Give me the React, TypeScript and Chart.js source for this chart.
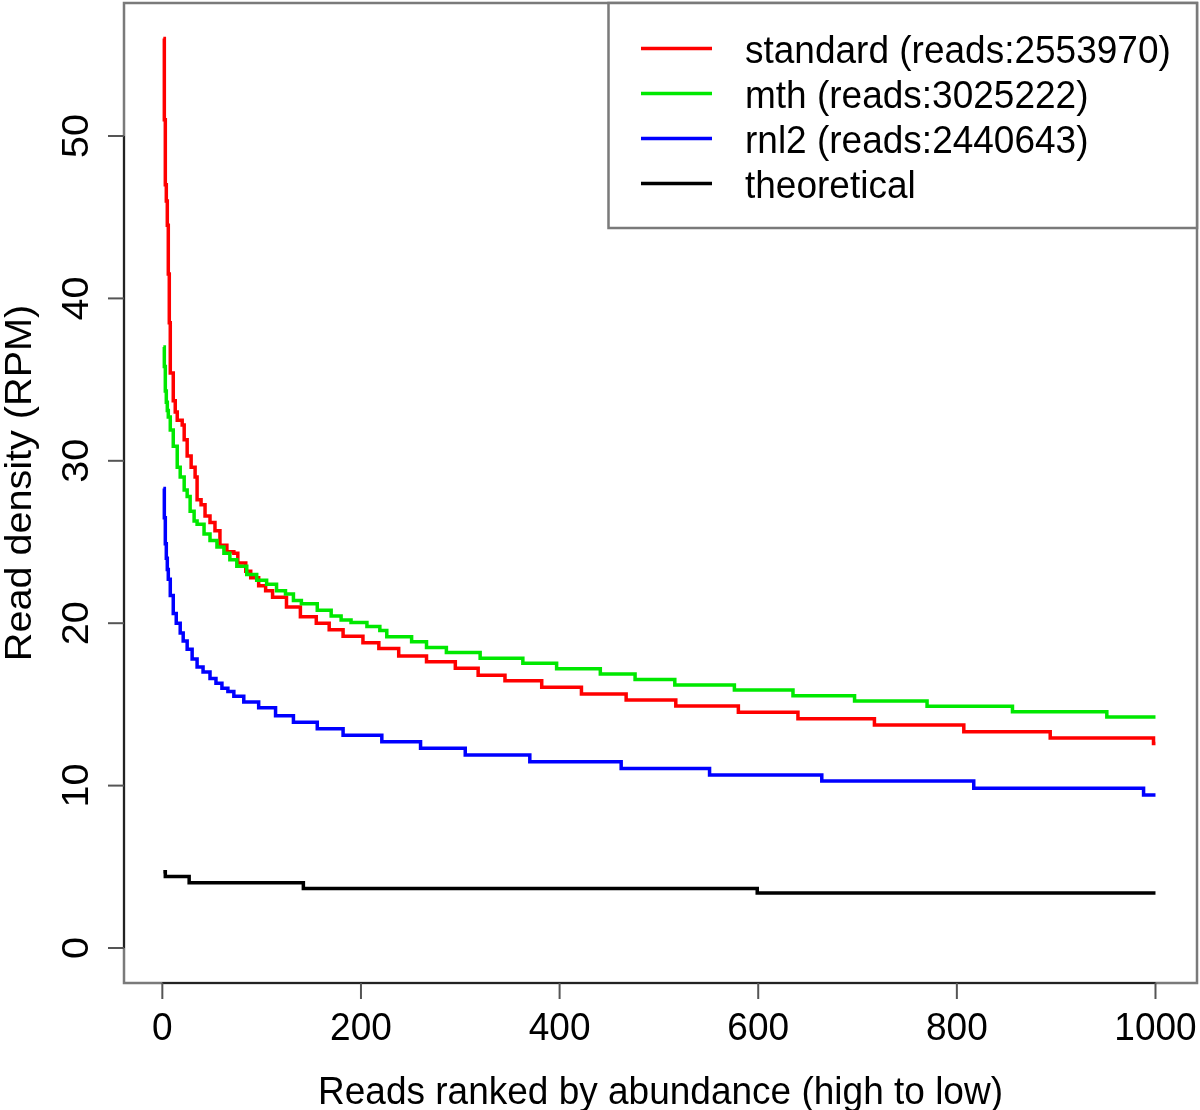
import React, { useEffect, useRef } from "react";
import { Chart, registerables } from "chart.js";

Chart.register(...registerables);

// ---------- data ----------
const xTickValues = [0, 200, 400, 600, 800, 1000];
const yTickValues = [0, 10, 20, 30, 40, 50];
const xTitle = "Reads ranked by abundance (high to low)";
const yTitle = "Read density (RPM)";
const seriesNames = [
  "standard (reads:2553970)",
  "mth (reads:3025222)",
  "rnl2 (reads:2440643)",
  "theoretical",
];
const seriesColors = ["#ff0000", "#00e800", "#0000ff", "#000000"];

// step levels: value holds from the given rank onward
const standardRank = [1, 2, 3, 4, 5, 6, 7, 8, 11, 13, 15, 20, 22, 25, 29, 33, 35, 39, 43, 48, 53, 58, 65, 72, 76, 84, 89, 97, 104, 111, 125, 139, 155, 168, 182, 202, 218, 238, 266, 295, 318, 345, 382, 422, 467, 517, 580, 640, 717, 807, 894, 998, 1000];
const standardRpm = [56.0, 51.0, 47.0, 46.0, 44.5, 41.5, 38.5, 35.4, 33.7, 33.0, 32.5, 32.2, 31.3, 30.3, 29.6, 29.0, 27.6, 27.3, 26.6, 26.2, 25.7, 24.8, 24.4, 24.3, 23.7, 23.2, 22.8, 22.3, 22.0, 21.6, 21.0, 20.4, 20.0, 19.6, 19.2, 18.8, 18.45, 17.98, 17.63, 17.22, 16.8, 16.46, 16.05, 15.64, 15.27, 14.9, 14.51, 14.12, 13.73, 13.32, 12.93, 12.6, 12.6];

const mthRank = [1, 2, 3, 4, 5, 6, 8, 11, 15, 18, 22, 25, 28, 32, 35, 42, 48, 55, 62, 68, 75, 85, 95, 105, 115, 124, 132, 140, 156, 170, 180, 190, 206, 219, 226, 251, 266, 286, 320, 363, 397, 441, 476, 516, 576, 635, 697, 770, 856, 951, 1000];
const mthRpm = [37.0, 35.8, 34.3, 33.6, 33.1, 32.7, 31.9, 30.9, 29.6, 29.0, 28.2, 27.8, 26.9, 26.3, 26.1, 25.5, 25.1, 24.7, 24.3, 23.9, 23.5, 23.0, 22.65, 22.4, 22.0, 21.8, 21.4, 21.2, 20.8, 20.45, 20.2, 20.05, 19.8, 19.55, 19.17, 18.86, 18.5, 18.2, 17.84, 17.53, 17.2, 16.87, 16.54, 16.19, 15.89, 15.54, 15.21, 14.88, 14.55, 14.22, 14.22];

const rnl2Rank = [1, 2, 3, 4, 5, 6, 8, 11, 14, 18, 21, 25, 30, 35, 41, 48, 54, 60, 66, 72, 82, 97, 114, 132, 156, 182, 221, 260, 305, 370, 462, 551, 664, 817, 988, 1000];
const rnl2Rpm = [28.3, 26.5, 24.9, 24.0, 23.3, 22.7, 21.7, 20.6, 20.0, 19.4, 18.9, 18.4, 17.8, 17.3, 17.0, 16.6, 16.3, 16.0, 15.8, 15.5, 15.15, 14.8, 14.3, 13.9, 13.5, 13.1, 12.7, 12.3, 11.88, 11.47, 11.06, 10.65, 10.28, 9.83, 9.42, 9.42];

const theoreticalRank = [1, 3, 27, 142, 599, 1000];
const theoreticalRpm = [4.7, 4.4, 4.02, 3.67, 3.39, 3.39];

const seriesRanks = [standardRank, mthRank, rnl2Rank, theoreticalRank];
const seriesRpms = [standardRpm, mthRpm, rnl2Rpm, theoreticalRpm];

// ---------- layout / style ----------
const W = 1200;
const H = 1110;
const FONT = '37px "Liberation Sans", Arial, sans-serif';
const VSTRETCH = 1.07;

function drawText(ctx: CanvasRenderingContext2D, s: string, x: number, y: number, align: CanvasTextAlign, rotated = false) {
  ctx.save();
  ctx.translate(x, y);
  if (rotated) {
    ctx.rotate(-Math.PI / 2);
    ctx.scale(VSTRETCH, 1);
  } else {
    ctx.scale(1, VSTRETCH);
  }
  ctx.font = FONT;
  ctx.fillStyle = "#000";
  ctx.textAlign = align;
  ctx.textBaseline = "alphabetic";
  ctx.fillText(s, 0, 0);
  ctx.restore();
}

const rFrame = {
  id: "rFrame",
  afterDraw(chart: any) {
    const ctx: CanvasRenderingContext2D = chart.ctx;
    const a = chart.chartArea;
    const xs = chart.scales.x;
    const ys = chart.scales.y;
    ctx.save();
    // plot box
    ctx.strokeStyle = "#7a7a7a";
    ctx.lineWidth = 2.5;
    ctx.strokeRect(a.left, a.top, a.right - a.left, a.bottom - a.top);

    // x axis
    const x0 = xs.getPixelForValue(xTickValues[0]);
    const x1 = xs.getPixelForValue(xTickValues[xTickValues.length - 1]);
    ctx.strokeStyle = "#222";
    ctx.lineWidth = 2;
    ctx.beginPath();
    ctx.moveTo(x0, a.bottom);
    ctx.lineTo(x1, a.bottom);
    ctx.stroke();
    ctx.strokeStyle = "#555";
    for (const v of xTickValues) {
      const px = xs.getPixelForValue(v);
      ctx.beginPath();
      ctx.moveTo(px, a.bottom);
      ctx.lineTo(px, a.bottom + 16);
      ctx.stroke();
      drawText(ctx, String(v), px, 1040, "center");
    }
    // y axis
    const y0 = ys.getPixelForValue(yTickValues[0]);
    const y1 = ys.getPixelForValue(yTickValues[yTickValues.length - 1]);
    ctx.strokeStyle = "#222";
    ctx.beginPath();
    ctx.moveTo(a.left, y0);
    ctx.lineTo(a.left, y1);
    ctx.stroke();
    ctx.strokeStyle = "#555";
    for (const v of yTickValues) {
      const py = ys.getPixelForValue(v);
      ctx.beginPath();
      ctx.moveTo(a.left, py);
      ctx.lineTo(a.left - 16, py);
      ctx.stroke();
      drawText(ctx, String(v), 88, py, "center", true);
    }
    // titles
    drawText(ctx, xTitle, (a.left + a.right) / 2, 1104, "center");
    drawText(ctx, yTitle, 31, 483, "center", true);

    // legend
    const lx = 608.5;
    const ly = a.top;
    ctx.fillStyle = "#fff";
    ctx.fillRect(lx, ly, a.right - lx, 228 - ly);
    ctx.strokeStyle = "#7a7a7a";
    ctx.lineWidth = 2.5;
    ctx.strokeRect(lx, ly, a.right - lx, 228 - ly);
    seriesNames.forEach((name, i) => {
      const yy = 48.5 + 45 * i;
      ctx.strokeStyle = seriesColors[i];
      ctx.lineWidth = 3.5;
      ctx.beginPath();
      ctx.moveTo(641, yy);
      ctx.lineTo(712, yy);
      ctx.stroke();
      drawText(ctx, name, 745, yy + 14, "left");
    });
    ctx.restore();
  },
};

export default function App() {
  const ref = useRef<HTMLCanvasElement | null>(null);
  useEffect(() => {
    if (!ref.current) return;
    const datasets = seriesNames.map((name, i) => ({
      label: name,
      data: seriesRanks[i].map((r, j) => ({ x: r, y: seriesRpms[i][j] })),
      borderColor: seriesColors[i],
      backgroundColor: seriesColors[i],
      borderWidth: 3.5,
      stepped: "before" as const,
      fill: false,
      pointRadius: 0,
      order: 4 - i,
    }));
    const chart = new Chart(ref.current, {
      type: "line",
      data: { datasets },
      options: {
        responsive: false,
        animation: false,
        layout: { padding: { left: 124, right: 3, top: 3, bottom: 127 } },
        plugins: { legend: { display: false }, tooltip: { enabled: false } },
        scales: {
          x: { type: "linear", min: -38.6, max: 1041.8, display: false },
          y: { type: "linear", min: -2.155, max: 58.19, display: false },
        },
      },
      plugins: [rFrame],
    } as any);
    return () => chart.destroy();
  }, []);
  return (
    <div style={{ position: "absolute", left: 0, top: 0, width: W, height: H, background: "#fff" }}>
      <canvas ref={ref} width={W} height={H} style={{ width: W, height: H, display: "block" }} />
    </div>
  );
}
